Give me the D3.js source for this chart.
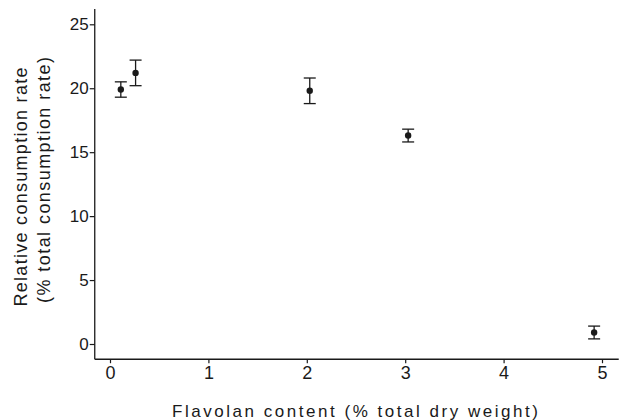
<!DOCTYPE html>
<html>
<head>
<meta charset="utf-8">
<script src="https://cdnjs.cloudflare.com/ajax/libs/d3/7.8.5/d3.min.js"></script>
<style>
    body { margin: 0; background: #fff; }
    svg text { font-family: "Liberation Sans", Arial, sans-serif; fill: #1a1a1a; }
</style>
</head>
<body>
<svg id="chart" width="620" height="420"></svg>
<script>
// values
var flavolanContent = [0.11, 0.26, 2.03, 3.03, 4.92];
var consumptionRate = [19.9, 21.2, 19.8, 16.3, 0.9];
var errorHalf = [0.6, 1.0, 1.0, 0.5, 0.5];
var xTicks = [0, 1, 2, 3, 4, 5];
var yTicks = [0, 5, 10, 15, 20, 25];
var xTitle = 'Flavolan content (% total dry  weight)';
var yTitleLines = ['Relative  consumption  rate', '(% total consumption  rate)'];

(function (d3) {
    'use strict';

    var svg = d3.select('#chart'),
        INK = '#1a1a1a',
        x = d3.scaleLinear().domain([0, 5]).range([110, 602]),
        y = d3.scaleLinear().domain([0, 25]).range([344, 24.3]),
        xMin = -0.155,
        xMax = 5.17,
        yMin = -1.19,
        yMax = 26.2,
        capHalf = 6,
        points;

    points = flavolanContent.map(function (v, i) {
        return { x: v, y: consumptionRate[i], e: errorHalf[i] };
    });

    // axis lines meet at the lower-left corner
    svg.append('line')
        .attr('x1', x(xMin)).attr('x2', x(xMin))
        .attr('y1', y(yMax)).attr('y2', y(yMin))
        .attr('stroke', INK).attr('stroke-width', 1.3);
    svg.append('line')
        .attr('x1', x(xMin)).attr('x2', x(xMax))
        .attr('y1', y(yMin)).attr('y2', y(yMin))
        .attr('stroke', INK).attr('stroke-width', 1.5);

    var yAxis = svg.append('g')
        .attr('transform', 'translate(' + x(xMin) + ',0)')
        .call(d3.axisLeft(y).tickValues(yTicks).tickFormat(d3.format('d'))
            .tickSize(5).tickPadding(1));
    yAxis.select('.domain').remove();
    yAxis.selectAll('line').attr('stroke', INK).attr('stroke-width', 1.2);
    yAxis.selectAll('text')
        .attr('fill', INK)
        .style('font-size', '17px');

    var xAxis = svg.append('g')
        .attr('transform', 'translate(0,' + y(yMin) + ')')
        .call(d3.axisBottom(x).tickValues(xTicks).tickFormat(d3.format('d'))
            .tickSize(4).tickPadding(3));
    xAxis.select('.domain').remove();
    xAxis.selectAll('line').attr('stroke', INK).attr('stroke-width', 1.2);
    xAxis.selectAll('text')
        .attr('fill', INK)
        .style('font-size', '18px');

    // error bars
    var bars = svg.append('g').selectAll('g')
        .data(points)
        .join('g')
        .attr('stroke', INK)
        .attr('stroke-width', 1.3);
    bars.append('line')
        .attr('x1', function (d) { return x(d.x); })
        .attr('x2', function (d) { return x(d.x); })
        .attr('y1', function (d) { return y(d.y + d.e); })
        .attr('y2', function (d) { return y(d.y - d.e); });
    bars.append('line')
        .attr('x1', function (d) { return x(d.x) - capHalf; })
        .attr('x2', function (d) { return x(d.x) + capHalf; })
        .attr('y1', function (d) { return y(d.y + d.e); })
        .attr('y2', function (d) { return y(d.y + d.e); });
    bars.append('line')
        .attr('x1', function (d) { return x(d.x) - capHalf; })
        .attr('x2', function (d) { return x(d.x) + capHalf; })
        .attr('y1', function (d) { return y(d.y - d.e); })
        .attr('y2', function (d) { return y(d.y - d.e); });

    svg.append('g').selectAll('circle')
        .data(points)
        .join('circle')
        .attr('cx', function (d) { return x(d.x); })
        .attr('cy', function (d) { return y(d.y); })
        .attr('r', 3.2)
        .attr('fill', INK);

    // titles
    svg.append('text')
        .attr('x', 355)
        .attr('y', 417)
        .attr('text-anchor', 'middle')
        .attr('textLength', 366)
        .attr('lengthAdjust', 'spacing')
        .style('font-size', '17px')
        .text(xTitle);

    svg.append('g')
        .attr('transform', 'rotate(-90)')
        .selectAll('text')
        .data(yTitleLines)
        .join('text')
        .attr('x', function (d, i) { return i === 0 ? -187 : -180; })
        .attr('y', function (d, i) { return i === 0 ? 27 : 50; })
        .attr('text-anchor', 'middle')
        .attr('textLength', function (d, i) { return i === 0 ? 239 : 246; })
        .attr('lengthAdjust', 'spacing')
        .style('font-size', '18px')
        .text(function (d) { return d; });
}(window.d3));
</script>
</body>
</html>
